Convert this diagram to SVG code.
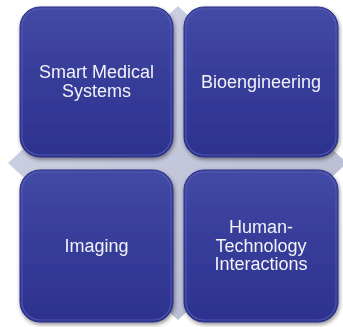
<svg xmlns="http://www.w3.org/2000/svg" width="343" height="327" viewBox="0 0 343 327">
  <defs>
    <linearGradient id="boxFill" x1="0" y1="0" x2="0" y2="1">
      <stop offset="0" stop-color="#434aa5"/>
      <stop offset="0.5" stop-color="#363c99"/>
      <stop offset="1" stop-color="#2d328e"/>
    </linearGradient>
    <linearGradient id="diaFill" x1="0" y1="0" x2="1" y2="1">
      <stop offset="0" stop-color="#d2d5e7"/>
      <stop offset="1" stop-color="#b4b8cf"/>
    </linearGradient>
    <filter id="shadow" x="-10%" y="-10%" width="125%" height="125%">
      <feGaussianBlur in="SourceAlpha" stdDeviation="2"/>
      <feOffset dx="1" dy="2" result="b"/>
      <feComponentTransfer><feFuncA type="linear" slope="0.45"/></feComponentTransfer>
      <feMerge><feMergeNode/><feMergeNode in="SourceGraphic"/></feMerge>
    </filter>
  </defs>
  <style>
    .box { fill: url(#boxFill); stroke: #2a2e86; stroke-width: 1; }
    .hl { fill: none; stroke: #5a61b4; stroke-width: 1.2; stroke-opacity: 0.7; }
    .lbl { font-family: "Liberation Sans", Arial, sans-serif; font-size: 18px; fill: #f2f2f7; text-anchor: middle; }
  </style>
  <rect width="343" height="327" fill="#ffffff"/>
  <polygon id="background-diamond" points="8,163 178,6 347,163 178,320" fill="url(#diaFill)"/>
  <g id="connectors"/>
  <g id="node-smart-medical-systems" filter="url(#shadow)">
    <rect class="box" x="20" y="7" width="153" height="150" rx="20"/>
    <rect class="hl" x="22" y="9" width="149" height="146" rx="18"/>
    <text class="lbl" x="96.5" y="78">Smart Medical</text>
    <text class="lbl" x="96.5" y="96.5">Systems</text>
  </g>
  <g id="node-bioengineering" filter="url(#shadow)">
    <rect class="box" x="184" y="7" width="154" height="150" rx="20"/>
    <rect class="hl" x="186" y="9" width="150" height="146" rx="18"/>
    <text class="lbl" x="261" y="88">Bioengineering</text>
  </g>
  <g id="node-imaging" filter="url(#shadow)">
    <rect class="box" x="20" y="170" width="153" height="152" rx="20"/>
    <rect class="hl" x="22" y="172" width="149" height="148" rx="18"/>
    <text class="lbl" x="96.5" y="252">Imaging</text>
  </g>
  <g id="node-human-technology-interactions" filter="url(#shadow)">
    <rect class="box" x="184" y="170" width="154" height="152" rx="20"/>
    <rect class="hl" x="186" y="172" width="150" height="148" rx="18"/>
    <text class="lbl" x="261" y="233">Human-</text>
    <text class="lbl" x="261" y="251.5">Technology</text>
    <text class="lbl" x="261" y="270">Interactions</text>
  </g>
</svg>
